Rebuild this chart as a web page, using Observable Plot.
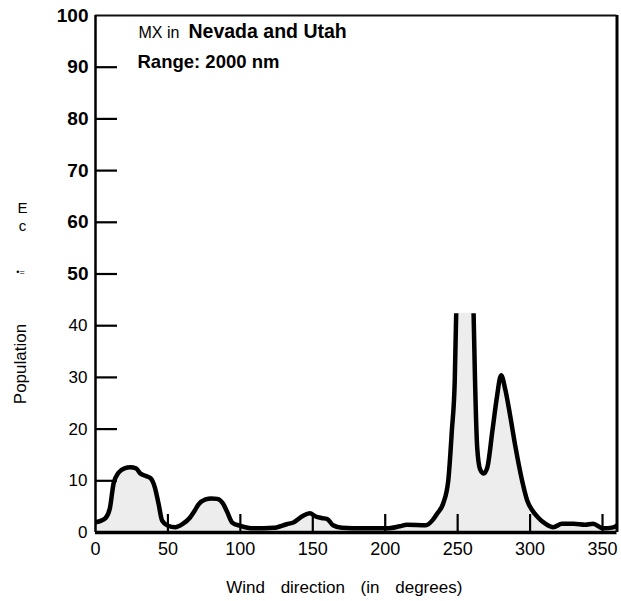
<!DOCTYPE html>
<html><head><meta charset="utf-8">
<script src="https://cdn.jsdelivr.net/npm/d3@7"></script>
<script src="https://cdn.jsdelivr.net/npm/@observablehq/plot@0.6"></script>
<style>
body{margin:0;background:#fff}
#chart{width:621px;height:601px}
</style>
</head><body><div id="chart"></div>
<script>
// Wind direction (degrees) and population values
const direction = [0,4,7,10,12.5,16,20,24,28,31,35,38,41,43.5,46,50,55,60,65,68,71,76,80,84,88,91,94.5,100,109,123,132,137,143,148,152,156,160,164,170,185,201,210,215,228,233,236,240,243.5,246,248,249,255,261,262,263.5,265.5,268,270.5,274,277,280,283,286,290,294.5,298,301.5,305.5,310.5,316,322,330,338,343.5,350.5,357.5,360];
const population = [2.0,2.3,2.8,4.8,9.5,11.6,12.4,12.6,12.4,11.4,10.9,10.5,8.7,5.6,2.3,1.3,1.0,1.6,2.8,4.0,5.4,6.4,6.6,6.5,5.6,3.9,1.9,1.3,0.8,0.9,1.6,2.0,3.2,3.7,3.1,2.8,2.6,1.4,0.9,0.8,0.8,1.2,1.5,1.4,2.5,3.7,5.6,10,19.7,29.4,42.4,42.4,42.4,29.4,16.4,12.2,11.4,12.6,19.7,26,30.4,27.5,23,16.4,10,6.2,4.3,2.9,1.7,1.0,1.7,1.7,1.5,1.7,0.8,1.0,1.4];
// the main peak runs off the drawn scale: its outline is cut at these directions
const clippedAt = [255];

const xTicks = [50,100,150,200,250,300,350];
const xLabels = [0,50,100,150,200,250,300,350];
const yTicks = [10,20,30,40,50,60,70,80,90];
const yLabelsBold = [50,60,70,80,90,100];
const yLabelsPlain = [0,10,20,30,40];

const titleLead = "MX in";
const titleBold = "Nevada and Utah";
const subtitle = "Range: 2000 nm";
const xTitle = "Wind direction (in degrees)";
const yTitle = "Population";
const scanMarks = ["E", "c", "•="];

const data = direction.map((d, i) => ({dir: d, pop: population[i]}));
const SANS = "Liberation Sans, Arial, Helvetica, sans-serif";
const NARROW = "Liberation Sans Narrow, Arial Narrow, Liberation Sans, sans-serif";
const M = "middle";

const chart = Plot.plot({
  width: 621, height: 601,
  marginLeft: 95, marginRight: 4.5, marginTop: 15, marginBottom: 69,
  x: {domain: [0, 360], axis: null},
  y: {domain: [0, 100], axis: null},
  style: {fontFamily: SANS, background: "#fff", color: "#000", overflow: "visible"},
  marks: [
    Plot.areaY(data, {x: "dir", y: "pop", fill: "#ededed", curve: "monotone-x"}),
    Plot.ruleY([100], {stroke: "#111", strokeWidth: 2}),
    Plot.ruleX([360], {stroke: "#000", strokeWidth: 3}),
    Plot.ruleX([0], {stroke: "#000", strokeWidth: 2.5}),
    Plot.ruleY([0], {stroke: "#000", strokeWidth: 3.5}),
    Plot.axisX({ticks: xTicks, tickSize: -18, tickFormat: () => "", label: null, strokeWidth: 2.2, stroke: "#000"}),
    Plot.axisY({ticks: yTicks, tickSize: -22, tickFormat: () => "", label: null, strokeWidth: 2.2, stroke: "#000"}),
    Plot.lineY(data, {x: "dir", y: d => clippedAt.includes(d.dir) ? NaN : d.pop,
      stroke: "#000", strokeWidth: 4.5, curve: "monotone-x", strokeLinejoin: "round", strokeLinecap: "butt"}),
    Plot.text(xLabels, {x: d => d, frameAnchor: "bottom", lineAnchor: M, dy: 17, fontSize: 18, fontFamily: NARROW, fill: "#000"}),
    Plot.text(yLabelsPlain, {y: d => d, frameAnchor: "left", lineAnchor: M, dx: -8, textAnchor: "end", fontSize: 17, fill: "#000"}),
    Plot.text(yLabelsBold, {y: d => d, frameAnchor: "left", lineAnchor: M, dx: -7, textAnchor: "end", fontSize: 19, fontWeight: "bold", fontFamily: NARROW, fill: "#000"}),
    Plot.text([titleLead], {frameAnchor: "top-left", lineAnchor: M, dx: 43, dy: 17, textAnchor: "start", fontSize: 16, fill: "#000"}),
    Plot.text([titleBold], {frameAnchor: "top-left", lineAnchor: M, dx: 93, dy: 16, textAnchor: "start", fontSize: 19.5, fontWeight: "bold", fill: "#000"}),
    Plot.text([subtitle], {frameAnchor: "top-left", lineAnchor: M, dx: 42, dy: 47, textAnchor: "start", fontSize: 18.5, fontWeight: "bold", fill: "#000"}),
    Plot.text([xTitle], {frameAnchor: "bottom", lineAnchor: M, dx: -12, dy: 55, fontSize: 17, fill: "#000"}),
    Plot.text([yTitle], {frameAnchor: "left", lineAnchor: M, textAnchor: M, dx: -75, dy: 90, rotate: -90, fontSize: 17, fill: "#000"}),
    Plot.text([scanMarks[0]], {frameAnchor: "top-left", lineAnchor: M, textAnchor: M, dx: -73, dy: 193, fontSize: 15, fill: "#000"}),
    Plot.text([scanMarks[1]], {frameAnchor: "top-left", lineAnchor: M, textAnchor: M, dx: -73, dy: 211, fontSize: 15, fill: "#000"}),
    Plot.text([scanMarks[2]], {frameAnchor: "top-left", lineAnchor: M, textAnchor: M, dx: -75, dy: 257, fontSize: 9, fill: "#000"})
  ]
});
document.getElementById("chart").appendChild(chart);
d3.select(chart).selectAll("text").filter(function(){return this.textContent === xTitle;})
  .style("word-spacing", "11px");
</script>
</body></html>
